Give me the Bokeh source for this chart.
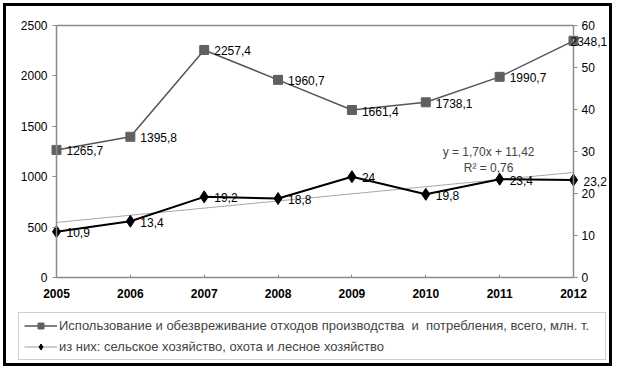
from bokeh.plotting import figure
from bokeh.models import (Range1d, LinearAxis, FixedTicker, ColumnDataSource,
                          Legend, LegendItem, Label, LabelSet)
from bokeh.core.properties import value
from bokeh.embed import file_html
from bokeh.resources import INLINE

# ---- data ----
years = [2005, 2006, 2007, 2008, 2009, 2010, 2011, 2012]
total = [1265.7, 1395.8, 2257.4, 1960.7, 1661.4, 1738.1, 1990.7, 2348.1]
agri = [10.9, 13.4, 19.2, 18.8, 24.0, 19.8, 23.4, 23.2]
total_labels = ["1265,7", "1395,8", "2257,4", "1960,7", "1661,4", "1738,1", "1990,7", "2348,1"]
agri_labels = ["10,9", "13,4", "19,2", "18,8", "24", "19,8", "23,4", "23,2"]
trend_slope = 1.70
trend_icpt = 11.42
trend_text = "y = 1,70x + 11,42"
r2_text = "R² = 0,76"
left_ticks = [0, 500, 1000, 1500, 2000, 2500]
right_ticks = [0, 10, 20, 30, 40, 50, 60]
series_names = [
    "Использование и обезвреживание отходов производства  и  потребления, всего, млн. т.",
    "из них: сельское хозяйство, охота и лесное хозяйство",
]

# ---- styles / layout ----
total_label_dx = [10, 10, 10, 10, 10, 10, 10, -3]
FONT = "Liberation Sans"
W, H = 609, 363           # canvas size (border-box element)
OX, OY = 6, 6             # canvas origin on page
PL, PR, PT, PB = 56, 573, 25, 277   # plot area on page
x0, x1 = years[0], years[-1]
ly0, ly1 = left_ticks[0], left_ticks[-1]
ry0, ry1 = right_ticks[0], right_ticks[-1]
sx = (PR - PL) / (x1 - x0)
xs = x0 - (PL - OX) / sx
xe = xs + W / sx
syl = (PB - PT) / (ly1 - ly0)
yle = ly1 + (PT - OY) / syl
yls = yle - H / syl
syr = (PB - PT) / (ry1 - ry0)
yre = ry1 + (PT - OY) / syr
yrs = yre - H / syr

p = figure(width=W, height=H, output_backend="svg", toolbar_location=None,
           x_range=Range1d(xs, xe), y_range=Range1d(yls, yle),
           min_border=0, min_border_left=0, min_border_right=0,
           min_border_top=0, min_border_bottom=0)
p.styles = {"border": "3px solid black", "margin": "3px 0 0 3px"}
p.extra_y_ranges = {"right": Range1d(yrs, yre)}
p.grid.visible = False
p.outline_line_color = None

AX_COL = "#8a8a8a"
xa = p.xaxis[0]
ya = p.yaxis[0]
xa.ticker = FixedTicker(ticks=years)
xa.fixed_location = ly0
xa.bounds = (x0, x1)
ya.ticker = FixedTicker(ticks=left_ticks)
ya.fixed_location = x0
ya.bounds = (ly0, ly1)
ra = LinearAxis(y_range_name="right", ticker=FixedTicker(ticks=right_ticks),
                fixed_location=x1, bounds=(ry0, ry1))
p.add_layout(ra, "right")
ta = LinearAxis(ticker=FixedTicker(ticks=[]), fixed_location=ly1, bounds=(x0, x1))
p.add_layout(ta, "above")
for ax in [xa, ya, ra, ta]:
    ax.axis_line_color = AX_COL
    ax.axis_line_width = 1.5
    ax.major_tick_line_color = AX_COL
    ax.minor_tick_line_color = None
    ax.major_label_text_font = FONT
    ax.major_label_text_font_size = "12px"
    ax.major_label_text_color = "black"
xa.major_tick_in = 3
xa.major_tick_out = 0
xa.major_label_standoff = 11
xa.major_label_text_font_style = "bold"
ya.major_tick_out = 4
ya.major_tick_in = 0
ya.major_label_standoff = 5
ra.major_tick_out = 4
ra.major_tick_in = 0
ra.major_label_standoff = 4

src1 = ColumnDataSource(dict(x=years, y=total, t=total_labels, dx=total_label_dx))
src2 = ColumnDataSource(dict(x=years, y=agri, t=agri_labels))

# linear trend of the second series (x index 1..n)
tx = [x0, x1]
ty = [trend_slope * 1 + trend_icpt, trend_slope * len(years) + trend_icpt]
p.line(tx, ty, y_range_name="right", line_color="#a8a8a8", line_width=1)

l1 = p.line("x", "y", source=src1, line_color="#555555", line_width=1.5)
m1 = p.scatter("x", "y", source=src1, marker="square", size=9,
               fill_color="#606060", line_color="#606060")
# thin light line under the black one: used as the legend swatch of series 2
l2_leg = p.line("x", "y", source=src2, y_range_name="right", line_color="#9a9a9a",
                line_width=1)
l2 = p.line("x", "y", source=src2, y_range_name="right", line_color="black", line_width=2)
m2 = p.scatter("x", "y", source=src2, y_range_name="right", marker="diamond", size=12,
               fill_color="black", line_color="black")

p.add_layout(LabelSet(x="x", y="y", text="t", source=src1, x_offset="dx", y_offset=-1,
                      text_baseline="middle", text_align="left", text_font=value(FONT),
                      text_font_size="12px", text_color="black"))
p.add_layout(LabelSet(x="x", y="y", text="t", source=src2, y_range_name="right",
                      x_offset=10, y_offset=-1, text_baseline="middle", text_align="left",
                      text_font=value(FONT), text_font_size="12px", text_color="black"))

p.add_layout(Label(x=2010.85, y=29.8, y_range_name="right", text=trend_text,
                   text_align="center", text_baseline="middle", text_font=FONT,
                   text_font_size="12px"))
p.add_layout(Label(x=2010.85, y=26.0, y_range_name="right", text=r2_text,
                   text_align="center", text_baseline="middle", text_font=FONT,
                   text_font_size="12px"))

legend = Legend(items=[LegendItem(label=series_names[0], renderers=[l1, m1]),
                       LegendItem(label=series_names[1], renderers=[l2_leg, m2])],
                location=(12, 9), orientation="vertical")
legend.label_text_font = FONT
legend.label_text_font_size = "13px"
legend.glyph_width = 33
legend.glyph_height = 15
legend.label_height = 15
legend.label_width = 541
legend.spacing = 6
legend.padding = 5
legend.margin = 0
legend.border_line_color = "#a0a0a0"
legend.border_line_width = 1.5
legend.label_standoff = 2
p.add_layout(legend, "center")

open("out.html", "w").write(file_html(p, INLINE))
